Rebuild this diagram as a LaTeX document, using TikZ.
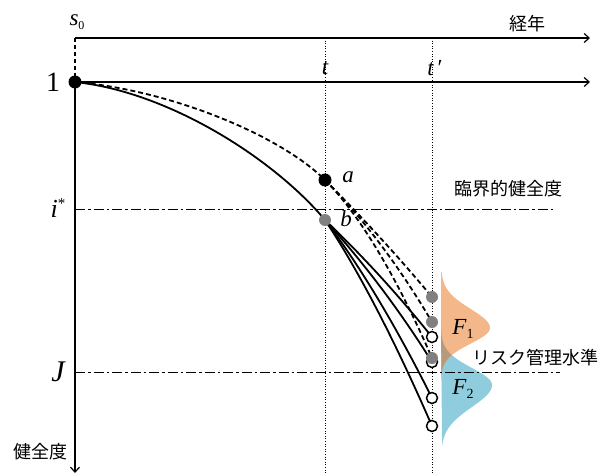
\documentclass[tikz,border=0pt]{standalone}
\usepackage{fontspec}
\setmainfont{Liberation Serif}
\newfontfamily\jp{Noto Sans CJK JP}
\usetikzlibrary{arrows.meta}
\definecolor{fone}{RGB}{244,183,138}
\definecolor{ftwo}{RGB}{143,205,222}
\definecolor{fmix}{RGB}{181,155,124}
\definecolor{gdot}{RGB}{128,128,128}
\begin{document}
\begin{tikzpicture}[x=1pt,y=-1pt,
  axis/.style={line width=1.2pt,-{Straight Barb[length=5pt,width=9pt,line width=1.2pt]}},
  guide/.style={line width=1pt,dash pattern=on 1pt off 1.6pt},
  dashdot/.style={line width=1pt,dash pattern=on 10pt off 3pt on 2.5pt off 3pt},
  curve/.style={line width=1.8pt},
  dcurve/.style={line width=1.8pt,dash pattern=on 5pt off 3pt},
  blackdot/.style={circle,fill=black,inner sep=0pt,minimum size=13pt},
  graydot/.style={circle,fill=gdot,inner sep=0pt,minimum size=12pt},
  opendot/.style={circle,draw=black,fill=white,line width=1.5pt,inner sep=0pt,minimum size=11pt},
  lbl/.style={font=\fontsize{23}{23}\selectfont\itshape,inner sep=0pt},
  jlbl/.style={font=\jp\fontsize{18}{18}\selectfont,inner sep=0pt}
]
\useasboundingbox (0,0) rectangle (606,474);

% coordinates
\coordinate (S) at (75,38);
\coordinate (P) at (75,82);
\coordinate (Xe1) at (590,38);
\coordinate (Xe2) at (590,82);
\coordinate (Ye) at (75,473);
\coordinate (A) at (325,180);
\coordinate (B) at (325,220);
\coordinate (G1) at (432,297);
\coordinate (G2) at (432,322);
\coordinate (G3) at (432,358);
\coordinate (W1) at (432,337);
\coordinate (W2) at (432,362);
\coordinate (W3) at (432,398);
\coordinate (W4) at (432,426);
\coordinate (Tt) at (325,38);
\coordinate (Tb) at (325,474);
\coordinate (Ut) at (432,38);
\coordinate (Ub) at (432,474);
\coordinate (Is) at (75,209);
\coordinate (Ie) at (555,209);
\coordinate (Js) at (75,372);
\coordinate (Je) at (560,372);

% distributions
\def\fonepath{(441,272) -- plot[domain=272:328,samples=40] ({441+49*exp(-((\x-328)/19)*((\x-328)/19)/2)},\x) -- plot[domain=328:390,samples=40] ({441+49*exp(-((\x-328)/15.6)*((\x-328)/15.6)/2)},\x) -- cycle}
\def\ftwopath{(441,325) -- plot[domain=325:385,samples=50] ({441+51*exp(-((\x-385)/17)*((\x-385)/17)/2)},\x) -- plot[domain=385:446,samples=40] ({441+51*exp(-((\x-385)/22)*((\x-385)/22)/2)},\x) -- cycle}
\fill[ftwo] \ftwopath;
\fill[fone] \fonepath;
\begin{scope}
  \clip \fonepath;
  \fill[fmix] \ftwopath;
\end{scope}

% guides
\draw[guide] (Tt) -- (Tb);
\draw[guide] (Ut) -- (Ub);
\draw[dashdot] (Is) -- (Ie);
\draw[dashdot] (Js) -- (Je);

% axes
\draw[line width=1.2pt,dash pattern=on 4pt off 3pt] (S) -- (P);
\draw[axis] (S) -- (Xe1);
\draw[axis] (P) -- (Xe2);
\draw[axis] (P) -- (Ye);

% curves
\draw[dcurve] (P) .. controls +(95,8) and +(-45,-45) .. (A);
\draw[curve] (P) .. controls +(95,10) and +(-50,-60) .. (B);
\draw[dcurve] (A) .. controls +(35,35) and +(-35,-42) .. (G1);
\draw[dcurve] (A) .. controls +(35,35) and +(-35,-59.5) .. (G2);
\draw[dcurve] (A) .. controls +(35,35) and +(-35,-80.5) .. (G3);
\draw[curve] (B) .. controls +(35,33.25) and +(-35,-43.75) .. (W1);
\draw[curve] (B) .. controls +(35,38.5) and +(-35,-56) .. (W2);
\draw[curve] (B) .. controls +(35,45.5) and +(-35,-70) .. (W3);
\draw[curve] (B) .. controls +(35,52.5) and +(-35,-80.5) .. (W4);

% dots
\node[blackdot] (p0) at (P) {};
\node[blackdot] (a) at (A) {};
\node[graydot] (b) at (B) {};
\node[opendot] (w1) at (W1) {};
\node[opendot] (w2) at (W2) {};
\node[opendot] (w3) at (W3) {};
\node[opendot] (w4) at (W4) {};
\node[graydot] (g1) at (G1) {};
\node[graydot] (g2) at (G2) {};
\node[graydot] (g3) at (G3) {};

% labels
\node[lbl] (ls0) at (77,22) {s\raisebox{-4pt}{\upshape\fontsize{12}{12}\selectfont 0}};
\node[font=\fontsize{28}{28}\selectfont,inner sep=0pt] (l1) at (53,82) {1};
\node[lbl,font=\fontsize{26}{26}\selectfont\itshape] (li) at (58,208) {i\raisebox{9pt}{\upshape\fontsize{15}{15}\selectfont *}};
\node[lbl,font=\fontsize{30}{30}\selectfont\itshape] (lJ) at (58,372) {J};
\node[lbl] (lt) at (325,68) {t};
\node[lbl] (ltp) at (435,68) {t\,\upshape ′};
\node[lbl] (la) at (348,177) {a};
\node[lbl] (lb) at (346,219) {b};
\node[lbl] (lF1) at (463,329) {F\raisebox{-4pt}{\upshape\fontsize{14}{14}\selectfont 1}};
\node[lbl] (lF2) at (463,389) {F\raisebox{-4pt}{\upshape\fontsize{14}{14}\selectfont 2}};
\node[jlbl] (lcrit) at (508,189) {臨界的健全度};
\node[jlbl,anchor=west] (lrisk) at (472,358) {リスク管理水準};
\node[jlbl] (lhealth) at (40,452) {健全度};
\node[jlbl] (lyear) at (527,24) {経年};
\end{tikzpicture}
\end{document}
